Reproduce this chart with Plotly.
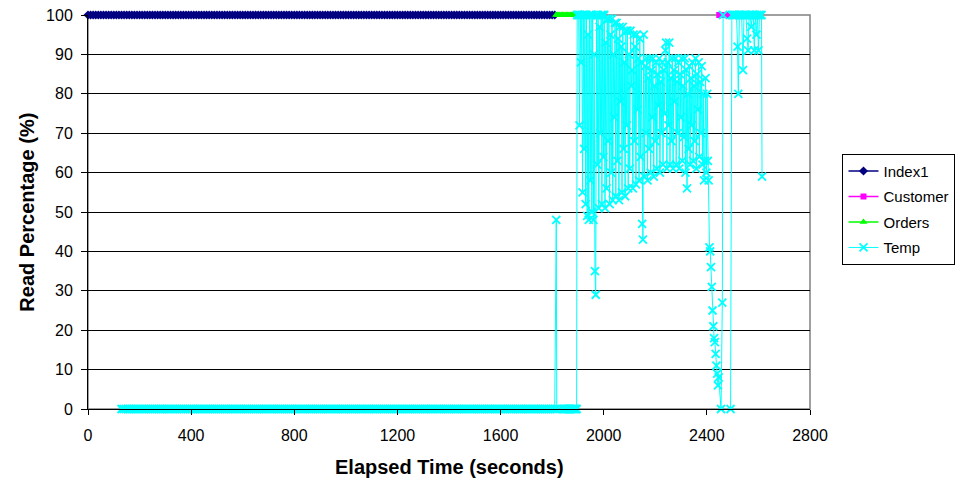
import plotly.graph_objects as go

# ---------------- data ----------------
# Index1: constant 100 % read from start until ~1811 s (sampled every 10 s)
INDEX1_T = list(range(0, 1815, 10))
INDEX1_V = [100] * len(INDEX1_T)

# Orders: 100 % between ~1815 s and ~1900 s
ORDERS_T = list(range(1815, 1901, 5))
ORDERS_V = [100] * len(ORDERS_T)

# Customer: 100 % between ~2448 s and ~2488 s
CUSTOMER_T = [2448, 2458, 2468, 2478, 2488]
CUSTOMER_V = [100, 100, 100, 100, 100]

# Temp: 0 % from ~130 s to ~1814 s
TEMP_ZERO_T = list(range(130, 1815, 8))
TEMP_ZERO_V = [0] * len(TEMP_ZERO_T)

# Temp: spike and second zero run
TEMP_SPIKE_T = [1816, 1818, 1840, 1844, 1848, 1852, 1856, 1860, 1864, 1868,
                1872, 1876, 1880, 1884, 1888, 1892, 1895, 1897]
TEMP_SPIKE_V = [48, 0, 0, 0, 0, 0, 0, 0, 0, 0,
                0, 0, 0, 0, 0, 0, 0, 100]

# Temp: oscillating region, sampled every 3 s from 1900 s to 2407 s
TEMP_OSC_T = list(range(1900, 2408, 3))
TEMP_OSC_V = [100, 100, 72, 100, 88, 100, 55, 100, 66, 100,
              52, 100, 49, 95, 48, 100, 58, 100, 50, 100,
              48, 90, 35, 29, 100, 62, 100, 51, 97, 70,
              100, 52, 100, 64, 100, 51, 93, 56, 99, 68,
              99, 52, 95, 60, 99, 53, 90, 74, 98, 54,
              98, 63, 94, 53, 97, 78, 92, 55, 97, 66,
              88, 54, 96, 72, 96, 56, 90, 61, 96, 82,
              86, 56, 95, 68, 92, 57, 95, 76, 89, 58,
              94, 64, 88, 47, 43, 95, 59, 87, 70, 89,
              58, 84, 66, 89, 60, 86, 74, 89, 59, 82,
              68, 88, 61, 85, 77, 89, 60, 83, 70, 88,
              62, 86, 75, 91, 93, 61, 88, 72, 93, 62,
              84, 68, 89, 61, 86, 78, 89, 62, 83, 70,
              88, 61, 85, 74, 89, 63, 82, 69, 89, 60,
              86, 56, 80, 66, 87, 62, 84, 72, 88, 63,
              82, 68, 89, 61, 85, 76, 88, 64, 83, 70,
              87, 62, 80, 58, 63, 84, 60, 80, 63, 58]

# Temp: drop towards 0 and recovery
TEMP_DROP_T = [2410, 2413, 2416, 2419, 2422, 2425, 2428, 2431, 2434, 2437,
               2440, 2443, 2446, 2455, 2460, 2463, None, 2492, 2497]
TEMP_DROP_V = [41, 40, 36, 31, 25, 21, 18, 17, 14, 11,
               9, 6, 8, 0, 27, 100, None, 0, 100]

# Temp: tail near 100 %
TEMP_TAIL_T = [2500, 2505, 2510, 2515, 2519, 2522, 2526, 2530, 2535, 2540,
               2544, 2548, 2552, 2556, 2560, 2564, 2568, 2572, 2576, 2580,
               2584, 2588, 2592, 2596, 2600, 2604, 2608, 2612, 2614]
TEMP_TAIL_V = [100, 100, 100, 100, 92, 80, 100, 100, 100, 86,
               100, 100, 100, 94, 91, 100, 100, 97, 100, 100,
               91, 100, 95, 100, 91, 100, 100, 100, 59]

TEMP_T = TEMP_ZERO_T + TEMP_SPIKE_T + TEMP_OSC_T + TEMP_DROP_T + TEMP_TAIL_T
TEMP_V = TEMP_ZERO_V + TEMP_SPIKE_V + TEMP_OSC_V + TEMP_DROP_V + TEMP_TAIL_V

X_TICKS = [0, 400, 800, 1200, 1600, 2000, 2400, 2800]
Y_TICKS = [0, 10, 20, 30, 40, 50, 60, 70, 80, 90, 100]

FONT = "Liberation Sans, Arial, sans-serif"

fig = go.Figure()

fig.add_trace(go.Scatter(
    x=INDEX1_T, y=INDEX1_V, name="Index1", mode="lines+markers",
    line=dict(color="#000080", width=1.5),
    marker=dict(symbol="diamond", size=7, color="#000080"),
    cliponaxis=False, legendgroup="a"))
fig.add_trace(go.Scatter(
    x=CUSTOMER_T, y=CUSTOMER_V, name="Customer", mode="lines+markers",
    line=dict(color="#FF00FF", width=1.5),
    marker=dict(symbol="square", size=6, color="#FF00FF"),
    cliponaxis=False, legendgroup="b"))
fig.add_trace(go.Scatter(
    x=ORDERS_T, y=ORDERS_V, name="Orders", mode="lines+markers",
    line=dict(color="#00FF00", width=1.5),
    marker=dict(symbol="triangle-up", size=7, color="#00FF00"),
    cliponaxis=False, legendgroup="c"))
fig.add_trace(go.Scatter(
    x=TEMP_T, y=TEMP_V, name="Temp", mode="lines+markers",
    line=dict(color="#00FFFF", width=1),
    marker=dict(symbol="x-thin", size=8, color="#00FFFF",
                line=dict(color="#00FFFF", width=1.8)),
    connectgaps=False, cliponaxis=False, legendgroup="d"))

fig.update_layout(
    width=960, height=483,
    margin=dict(l=88, r=150, t=15, b=74, autoexpand=False),
    paper_bgcolor="white", plot_bgcolor="white",
    font=dict(family=FONT, size=16, color="black"),
    showlegend=True,
    legend=dict(x=1.045, y=0.648, xanchor="left", yanchor="top",
                bordercolor="black", borderwidth=1,
                font=dict(family=FONT, size=15, color="black"),
                tracegroupgap=3, traceorder="grouped"),
    xaxis=dict(range=[0, 2800], tickvals=X_TICKS, ticktext=[str(v) for v in X_TICKS],
               automargin=False, ticklabelstandoff=7,
               showgrid=False, zeroline=False, showline=True, linecolor="black",
               linewidth=1, ticks="outside", ticklen=5, tickcolor="black",
               tickfont=dict(family=FONT, size=16, color="black")),
    yaxis=dict(range=[0, 100], tickvals=Y_TICKS, ticktext=[str(v) for v in Y_TICKS],
               automargin=False, ticklabelstandoff=5,
               showgrid=True, gridcolor="black", gridwidth=1, zeroline=False,
               showline=True, linecolor="black", linewidth=1,
               ticks="outside", ticklen=6, tickcolor="black",
               tickfont=dict(family=FONT, size=16, color="black")),
    shapes=[dict(type="rect", xref="paper", yref="paper", x0=0, x1=1, y0=0, y1=1,
                 line=dict(color="#808080", width=1.5), layer="between")],
    annotations=[
        dict(text="<b>Elapsed Time (seconds)</b>", xref="paper", yref="paper",
             x=0.5, y=-0.148, xanchor="center", yanchor="middle", showarrow=False,
             font=dict(family=FONT, size=20, color="black")),
        dict(text="<b>Read Percentage (%)</b>", xref="paper", yref="paper",
             x=-0.085, y=0.5, xanchor="center", yanchor="middle", showarrow=False,
             textangle=-90, font=dict(family=FONT, size=20, color="black")),
    ],
)

fig.write_html("out.html")
